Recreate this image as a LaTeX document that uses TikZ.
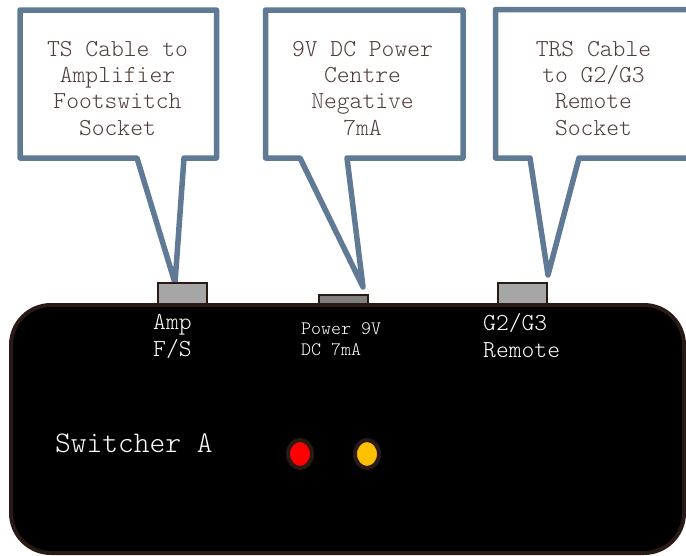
\documentclass[tikz,border=0pt]{standalone}
\usepackage{fontspec}
\newfontfamily\lightmono{Latin Modern Mono Light}
\definecolor{calloutblue}{RGB}{96,122,150}
\definecolor{textbrown}{RGB}{80,60,56}
\definecolor{boxborder}{RGB}{42,26,22}
\definecolor{jackgray}{RGB}{166,166,166}
\definecolor{jackdark}{RGB}{128,128,128}
\definecolor{ledorange}{RGB}{255,192,0}
\begin{document}
\begin{tikzpicture}[x=1pt,y=-1pt,
  callout/.style={draw=calloutblue, line width=5.5pt, fill=white, line join=round},
  ctext/.style={font=\fontsize{24.4}{26.1}\selectfont\lightmono, text=textbrown, align=center, inner sep=0pt, anchor=base},
  jack/.style={draw=boxborder, line width=1.2pt, fill=jackgray},
  dlabel/.style={font=\fontsize{24.4}{27}\selectfont\lightmono, text=white, align=left, inner sep=0pt, anchor=base west},
  slabel/.style={font=\fontsize{19}{21}\selectfont\lightmono, text=white, align=left, inner sep=0pt, anchor=base west},
  ledstyle/.style={draw=boxborder, line width=4pt}]
\useasboundingbox (0,0) rectangle (686,555);
% callouts
\coordinate (tip1) at (175,283);
\coordinate (tip2) at (363,287);
\coordinate (tip3) at (548,275);
\draw[callout] (20,10) -- (216.5,10) -- (216.5,158) -- (184,158) -- (tip1) -- (137,158) -- (20,158) -- cycle;
\draw[callout] (265.5,10) -- (463,10) -- (463,158) -- (347,158) -- (tip2) -- (300,158) -- (265.5,158) -- cycle;
\draw[callout] (495.5,9.5) -- (720,9.5) -- (720,158) -- (579,158) -- (tip3) -- (530,158) -- (495.5,158) -- cycle;
\node[ctext] (c1) at (117.5,135) {TS Cable to\\Amplifier\\Footswitch\\Socket};
\node[ctext] (c2) at (362.5,135) {9V DC Power\\Centre\\Negative\\7mA};
\node[ctext] (c3) at (593.5,135) {TRS Cable\\to G2/G3\\Remote\\Socket};
% jacks
\draw[jack] (158,283) rectangle (207,305);
\draw[jack, fill=jackdark] (319,295) rectangle (368,305);
\draw[jack] (498,283) rectangle (547,305);
% device
\draw[fill=black, draw=boxborder, line width=4pt, rounded corners=40pt] (11,305) rectangle (684,553);
\node[dlabel] (amp) at (153,356.5) {Amp\\F/S};
\node[slabel] (pwr) at (301,355) {Power 9V\\DC 7mA};
\node[dlabel] (g2) at (483,357) {G2/G3\\Remote};
\node[font=\fontsize{30}{32}\selectfont\lightmono, text=white, inner sep=0pt, anchor=base west] (sw) at (55,452) {Switcher A};
\draw[ledstyle, fill=red] (300,454) ellipse [x radius=12, y radius=14];
\draw[ledstyle, fill=ledorange] (367,454) ellipse [x radius=12, y radius=14];
\end{tikzpicture}
\end{document}
